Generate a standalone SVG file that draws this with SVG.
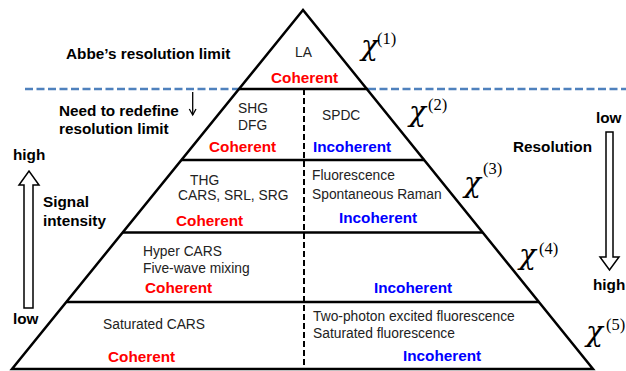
<svg xmlns="http://www.w3.org/2000/svg" width="626" height="371" viewBox="0 0 626 371">
<style>
.b{font-family:"Liberation Sans",Arial,sans-serif;font-weight:bold;font-size:15.3px;fill:#000}
.r{font-family:"Liberation Sans",Arial,sans-serif;font-size:13.8px;fill:#222}
.coh{font-family:"Liberation Sans",Arial,sans-serif;font-weight:bold;font-size:15.3px;fill:#FF0000}
.inc{font-family:"Liberation Sans",Arial,sans-serif;font-weight:bold;font-size:15.3px;fill:#0000FF}
.chi{font-family:"DejaVu Serif","Liberation Serif",serif;font-style:italic;font-size:28px;fill:#000}
.sup{font-family:"Liberation Serif","Times New Roman",serif;font-size:16.5px;fill:#000}
.ln{stroke:#000;stroke-width:2.5;fill:none}
.arr{stroke:#000;stroke-width:1.5;fill:#fff}
</style>
<rect width="626" height="371" fill="#fff"/>
<g id="connectors">
<line x1="25" y1="89" x2="239" y2="89" stroke="#4F81BD" stroke-width="2.5" stroke-dasharray="8,3.5"/>
<line x1="368" y1="89" x2="626" y2="89" stroke="#4F81BD" stroke-width="2.5" stroke-dasharray="8,3.5"/>
<line x1="304" y1="89" x2="304" y2="369" stroke="#000" stroke-width="2" stroke-dasharray="6,3"/>
<line x1="192.7" y1="92" x2="192.7" y2="115" stroke="#000" stroke-width="1.3"/>
<polyline points="189.3,109 192.7,115 196,109" fill="none" stroke="#000" stroke-width="1.3"/>
<polygon class="arr" points="24,308 33,308 33,185 39,185 29,171 19,185 24,185"/>
<polygon class="arr" points="606,132 613,132 613,257 619,257 609.5,270 600,257 606,257"/>
</g>
<g id="pyramid">
<polygon class="ln" points="303,10 12,369 593,369"/>
<line class="ln" x1="239" y1="89" x2="368" y2="89"/>
<line class="ln" x1="181.5" y1="160" x2="424.5" y2="160"/>
<line class="ln" x1="122.5" y1="232.5" x2="483" y2="232.5"/>
<line class="ln" x1="66.5" y1="302" x2="539" y2="302"/>
</g>
<g id="level1">
<text class="r" x="295" y="57">LA</text>
<text class="coh" x="271" y="83">Coherent</text>
</g>
<g id="level2">
<text class="r" x="238" y="113">SHG</text>
<text class="r" x="238" y="130">DFG</text>
<text class="coh" x="209" y="152">Coherent</text>
<text class="r" x="322" y="120">SPDC</text>
<text class="inc" x="313" y="152">Incoherent</text>
</g>
<g id="level3">
<text class="r" x="190" y="185">THG</text>
<text class="r" x="178" y="200">CARS, SRL, SRG</text>
<text class="coh" x="176" y="226">Coherent</text>
<text class="r" x="312" y="180">Fluorescence</text>
<text class="r" x="312" y="199">Spontaneous Raman</text>
<text class="inc" x="339" y="223">Incoherent</text>
</g>
<g id="level4">
<text class="r" x="143" y="256">Hyper CARS</text>
<text class="r" x="143" y="273">Five-wave mixing</text>
<text class="coh" x="145" y="293">Coherent</text>
<text class="inc" x="374" y="293">Incoherent</text>
</g>
<g id="level5">
<text class="r" x="103" y="329">Saturated CARS</text>
<text class="coh" x="108" y="362">Coherent</text>
<text class="r" x="313" y="321">Two-photon excited fluorescence</text>
<text class="r" x="313" y="338">Saturated fluorescence</text>
<text class="inc" x="403" y="361">Incoherent</text>
</g>
<g id="labels">
<text class="b" x="66" y="59">Abbe’s resolution limit</text>
<text class="b" x="59" y="116">Need to redefine</text>
<text class="b" x="59" y="134">resolution limit</text>
<text class="b" x="13" y="160">high</text>
<text class="b" x="43" y="207">Signal</text>
<text class="b" x="43" y="226">intensity</text>
<text class="b" x="13" y="324">low</text>
<text class="b" x="596" y="123">low</text>
<text class="b" x="513" y="152">Resolution</text>
<text class="b" x="593" y="290">high</text>
</g>
<g id="chi">
<text class="chi" x="361" y="55">χ</text><text class="sup" x="377" y="44">(1)</text>
<text class="chi" x="409" y="121">χ</text><text class="sup" x="428" y="110">(2)</text>
<text class="chi" x="464" y="192">χ</text><text class="sup" x="483" y="174">(3)</text>
<text class="chi" x="519" y="264">χ</text><text class="sup" x="539" y="254">(4)</text>
<text class="chi" x="586" y="341">χ</text><text class="sup" x="606" y="330">(5)</text>
</g>
</svg>
